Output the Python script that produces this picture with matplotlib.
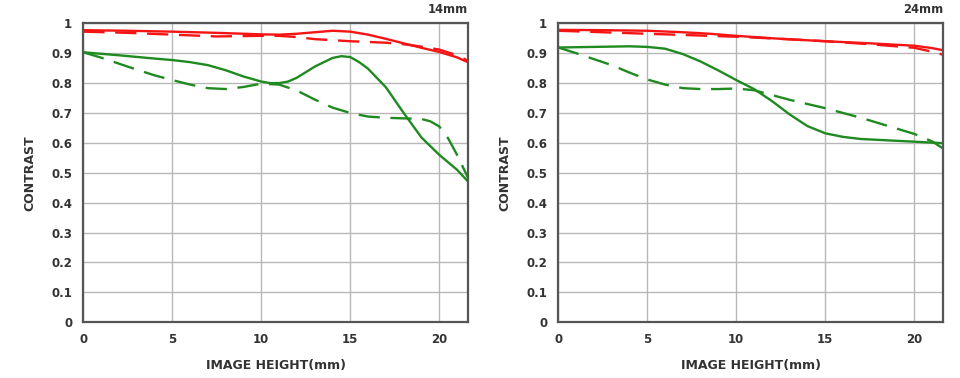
import matplotlib
matplotlib.use("Agg")
import matplotlib.pyplot as plt

plt.rcParams['font.family'] = ['DejaVu Sans']

RED = '#f51414'
GREEN = '#1f8a1f'
GRID = '#b8b8b8'
TXT = '#333333'

# 14mm
x14_rs = [0, 2.5, 5, 7.5, 10, 11, 12, 13, 14, 15, 16, 17, 18, 19, 20, 21, 21.6]
y14_rs = [0.977, 0.975, 0.972, 0.968, 0.963, 0.962, 0.965, 0.970, 0.975, 0.972, 0.962, 0.948, 0.933, 0.918, 0.904, 0.886, 0.870]
x14_rd = [0, 2.5, 5, 7.5, 10, 11, 12, 13, 15, 17, 18, 19, 20, 21, 21.6]
y14_rd = [0.972, 0.968, 0.962, 0.956, 0.958, 0.958, 0.954, 0.947, 0.940, 0.935, 0.930, 0.922, 0.912, 0.893, 0.875]
x14_gs = [0, 2, 4, 5, 6, 7, 8, 9, 10, 10.5, 11, 11.5, 12, 13, 14, 14.5, 15, 15.5, 16, 17, 18, 19, 20, 21, 21.6]
y14_gs = [0.903, 0.893, 0.882, 0.877, 0.870, 0.860, 0.843, 0.822, 0.805, 0.800, 0.800, 0.805, 0.818, 0.855, 0.884, 0.890, 0.887, 0.870, 0.848, 0.786, 0.700, 0.618, 0.560, 0.510, 0.472]
x14_gd = [0, 1, 2, 3, 4, 5, 6, 7, 8, 9, 10, 11, 12, 13, 14, 15, 16, 17, 18, 19, 19.5, 20, 20.5, 21, 21.6]
y14_gd = [0.903, 0.885, 0.865, 0.845, 0.826, 0.810, 0.795, 0.783, 0.780, 0.787, 0.798, 0.795, 0.775, 0.745, 0.718, 0.700, 0.688, 0.684, 0.682, 0.680, 0.672, 0.655, 0.615, 0.560, 0.485]

# 24mm
x24_rs = [0, 2.5, 5, 7, 8.5, 10, 12.5, 15, 17.5, 20, 21, 21.6]
y24_rs = [0.978, 0.977, 0.975, 0.970, 0.965, 0.958, 0.948, 0.940, 0.933, 0.925, 0.917, 0.910]
x24_rd = [0, 2.5, 5, 7.5, 10, 12.5, 15, 17.5, 20, 21, 21.6]
y24_rd = [0.975, 0.970, 0.965, 0.960, 0.955, 0.948, 0.940, 0.930, 0.918, 0.905, 0.895]
x24_gs = [0, 2, 4, 5, 6, 7, 8, 9, 10, 11, 12, 13, 14, 15, 16, 17, 18, 20, 21.6]
y24_gs = [0.919, 0.921, 0.923, 0.921, 0.915, 0.897, 0.872, 0.842, 0.810, 0.780, 0.740, 0.695, 0.656, 0.632, 0.620, 0.613, 0.610, 0.604, 0.599]
x24_gd = [0, 1, 2, 3, 4, 5, 6, 7, 8, 9, 10, 11, 12, 13, 14, 15, 16, 17, 18, 19, 20, 21, 21.6]
y24_gd = [0.919, 0.900, 0.880, 0.860, 0.835, 0.812, 0.795, 0.783, 0.780, 0.780, 0.782, 0.776, 0.760, 0.744, 0.730, 0.716, 0.700, 0.684, 0.666, 0.648, 0.630, 0.605, 0.582]

panels = [
    ('14mm', [(x14_rs, y14_rs, RED, '-'), (x14_rd, y14_rd, RED, '--'),
              (x14_gs, y14_gs, GREEN, '-'), (x14_gd, y14_gd, GREEN, '--')]),
    ('24mm', [(x24_rs, y24_rs, RED, '-'), (x24_rd, y24_rd, RED, '--'),
              (x24_gs, y24_gs, GREEN, '-'), (x24_gd, y24_gd, GREEN, '--')]),
]
xticks = [0, 5, 10, 15, 20]
yticks = [0, 0.1, 0.2, 0.3, 0.4, 0.5, 0.6, 0.7, 0.8, 0.9, 1]
ylabels = ['0', '0.1', '0.2', '0.3', '0.4', '0.5', '0.6', '0.7', '0.8', '0.9', '1']

fig = plt.figure(figsize=(9.6, 3.78), dpi=100)
lefts = [0.0868, 0.5816]

for left, (title, lines) in zip(lefts, panels):
    ax = fig.add_axes([left, 0.1474, 0.401, 0.791])
    for xs, ys, c, ls in lines:
        if ls == '--':
            ax.plot(xs, ys, color=c, lw=1.7, dashes=(9, 4.5), solid_capstyle='butt')
        else:
            ax.plot(xs, ys, color=c, lw=1.7)
    ax.set_xlim(0, 21.63)
    ax.set_ylim(0, 1)
    ax.set_xticks(xticks)
    ax.set_yticks(yticks)
    ax.set_yticklabels(ylabels)
    ax.grid(True, color=GRID, lw=1.0)
    ax.set_axisbelow(True)
    ax.tick_params(length=0, labelsize=8.5, labelcolor=TXT, pad=8)
    for lab in ax.get_xticklabels() + ax.get_yticklabels():
        lab.set_fontweight('bold')
    for sp in ax.spines.values():
        sp.set_color('#555555')
        sp.set_linewidth(1.6)
    ax.set_xlabel('IMAGE HEIGHT(mm)', fontsize=9, fontweight='bold', color=TXT, labelpad=9)
    ax.set_ylabel('CONTRAST', fontsize=9, fontweight='bold', color=TXT, labelpad=11)
    ax.text(1.0, 1.024, title, transform=ax.transAxes, ha='right', va='bottom',
            fontsize=8.3, fontweight='bold', color=TXT)

fig.savefig('out.png', dpi=100, facecolor='white')
